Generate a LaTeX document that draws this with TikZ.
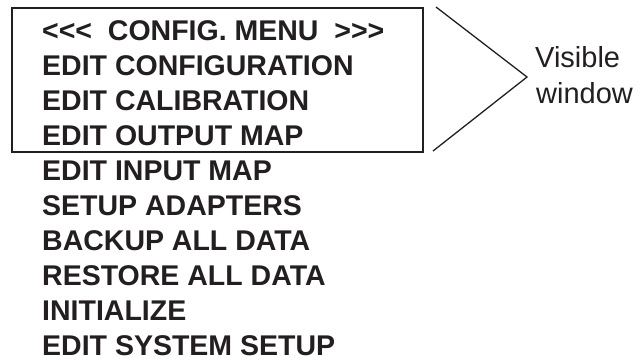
\documentclass[tikz,border=0pt]{standalone}
\usepackage{fontspec}
\setmainfont[Ligatures=TeXOff]{Liberation Sans}
\definecolor{ink}{HTML}{231F20}
\begin{document}
\begin{tikzpicture}[x=1pt,y=-1pt,
  item/.style={anchor=base west,inner sep=0pt,font=\bfseries\fontsize{28.5}{30}\selectfont,text=ink},
  lbl/.style={anchor=base west,inner sep=0pt,font=\fontsize{29}{30}\selectfont,text=ink},
  frame/.style={draw=ink,line width=2pt},
  brace/.style={draw=ink,line width=1.3pt}]
\useasboundingbox[fill=white] (0,0) rectangle (644,360);
\draw[frame] (12,7.5) rectangle (423,152);
\node[item] (l1) at (42,40) {<<<\ \ CONFIG. MENU\ \ >>>};
\node[item] (l2) at (42,75) {EDIT CONFIGURATION};
\node[item] (l3) at (42,110) {EDIT CALIBRATION};
\node[item] (l4) at (42,145.5) {EDIT OUTPUT MAP};
\node[item] (l5) at (42,180.5) {EDIT INPUT MAP};
\node[item] (l6) at (42,215.5) {SETUP ADAPTERS};
\node[item] (l7) at (42,250.5) {BACKUP ALL DATA};
\node[item] (l8) at (42,285.5) {RESTORE ALL DATA};
\node[item] (l9) at (42,320.5) {INITIALIZE};
\node[item] (l10) at (42,355) {EDIT SYSTEM SETUP};
\coordinate (ct) at (436,7);
\coordinate (ca) at (527,77);
\coordinate (cb) at (433,151);
\draw[brace] (ct) -- (ca) -- (cb);
\node[lbl] (v1) at (535,67) {Visible};
\node[lbl] (v2) at (536,103) {window};
\end{tikzpicture}
\end{document}
